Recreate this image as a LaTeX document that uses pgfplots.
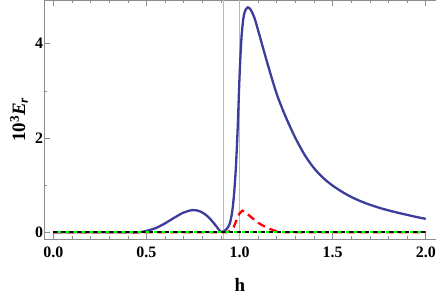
\documentclass[border=0pt]{standalone}
\usepackage{fontspec}
\setmainfont{Liberation Serif}
\usepackage{pgfplots}
\pgfplotsset{compat=1.18}
\usetikzlibrary{calc}
\definecolor{mblue}{RGB}{60,60,155}
\definecolor{framegray}{RGB}{140,140,140}
\begin{document}
\begin{tikzpicture}
\begin{axis}[
  scale only axis,
  width=392bp, height=239bp,
  xmin=-0.05, xmax=2.055,
  ymin=-0.142, ymax=4.927,
  axis y line*=left,
  axis line style={framegray, line width=0.6bp},
  every tick/.style={framegray, line width=0.6bp},
  tick align=inside,
  major tick length=6bp,
  minor tick length=3.5bp,
  xtick={0,0.5,1,1.5,2},
  xticklabels={0.0,0.5,1.0,1.5,2.0},
  minor xtick={0.1,0.2,0.3,0.4,0.6,0.7,0.8,0.9,1.1,1.2,1.3,1.4,1.6,1.7,1.8,1.9},
  ytick={0,2,4},
  minor ytick={1,3},
  /pgf/number format/assume math mode=true,
  tick label style={font=\bfseries\fontsize{16}{16}\selectfont, black},
  xticklabel style={yshift=-4bp},
  yticklabel style={xshift=2.5bp},
  xlabel={\bfseries h},
  ylabel={\bfseries 10\textsuperscript{3}\textit{E}\textsubscript{\textit{r}}},
  label style={font=\fontsize{19}{19}\selectfont},
  xlabel style={at={(axis description cs:0.5,-0.1925)}, anchor=center},
  ylabel style={at={(axis description cs:-0.0638,0.5)}, anchor=center},
  clip=true,
]
% vertical reference lines
\addplot[gray!55, line width=0.7bp] coordinates {(0.913,-0.142) (0.913,4.927)};
\addplot[gray!55, line width=0.7bp] coordinates {(1.0,-0.142) (1.0,4.927)};
% blue curve
\addplot[mblue, line width=2.3bp, smooth, tension=0.5] coordinates {
(0,0) (0.2,0) (0.4,0) (0.46,0) (0.5,0.03) (0.55,0.09) (0.6,0.19) (0.65,0.31)
(0.7,0.42) (0.745,0.47) (0.775,0.46) (0.8,0.42) (0.825,0.35) (0.85,0.25)
(0.875,0.13) (0.9,0.01)
(0.92,0.03) (0.94,0.12) (0.95,0.22) (0.96,0.42) (0.97,0.78) (0.98,1.35)
(0.99,2.2) (1.0,3.3) (1.01,4.1) (1.02,4.52) (1.03,4.7) (1.045,4.77)
(1.06,4.72) (1.08,4.55) (1.1,4.28) (1.15,3.58) (1.2,2.93) (1.25,2.43)
(1.3,2.0) (1.35,1.64) (1.4,1.36) (1.45,1.15) (1.5,0.99) (1.55,0.86)
(1.6,0.75) (1.65,0.66) (1.7,0.585) (1.75,0.52) (1.8,0.465) (1.85,0.415)
(1.9,0.37) (1.95,0.325) (2.0,0.285)
};
% red dashed
\addplot[red, line width=2.3bp, dash pattern=on 8bp off 5bp] coordinates {
(0,0) (0.5,0) (0.93,0) (0.95,0.03) (0.97,0.12) (0.99,0.32) (1.0,0.4)
(1.015,0.46) (1.03,0.43) (1.06,0.33) (1.1,0.2) (1.15,0.09) (1.2,0.02)
(1.25,0) (1.6,0) (2.0,0)
};
% green dotted
\addplot[green, line width=2.3bp, dash pattern=on 3bp off 5bp, dash phase=-4.5bp] coordinates {(0,0) (2,0)};
% black dashed
\addplot[black, line width=2.3bp, dash pattern=on 4bp off 4bp] coordinates {(0,0) (2,0)};
\end{axis}
\pgfresetboundingbox
\path ($(current axis.south west)+(-44bp,-58bp)$) rectangle (current axis.north east);
\end{tikzpicture}
\end{document}
